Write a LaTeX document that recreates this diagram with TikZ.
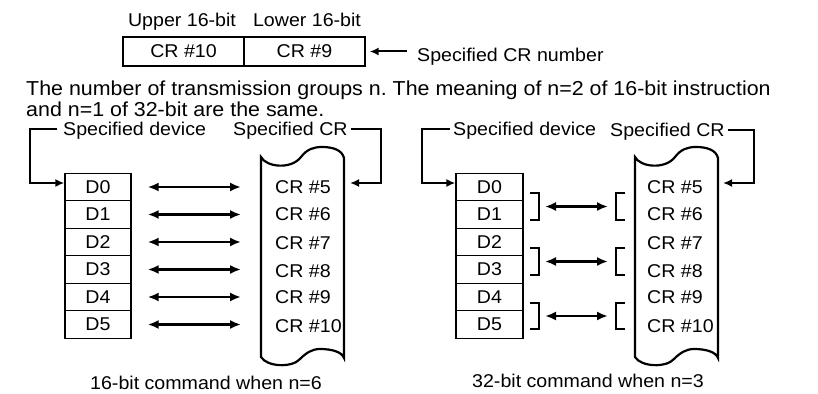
\documentclass[tikz,border=0pt]{standalone}
\usepackage{fontspec}
\setmainfont{Liberation Sans}[FakeStretch=1.06]
\usetikzlibrary{arrows.meta}
\frenchspacing

\begin{document}
\begin{tikzpicture}[x=1pt,y=-1pt,
	lbl/.style={inner sep=0,text height=13.2pt,text depth=0pt,font=\fontsize{18.5}{21}\selectfont},
	dev/.style={draw,line width=1.3pt,minimum width=66pt,minimum height=27.5pt,inner sep=0,font=\fontsize{18.5}{21}\selectfont},
	link/.style={line width=2.3pt,{Latex[length=11pt,width=9pt]}-{Latex[length=11pt,width=9pt]}},
	feed/.style={line width=2pt,-{Latex[length=9pt,width=8pt]}},
	scroll/.style={line width=2.2pt},
	pair/.style={line width=2.7pt}]
	\useasboundingbox (0,0) rectangle (818,393);
	% register pair on top
	\node[lbl] (up) at (182,20) {Upper 16-bit};
	\node[lbl] (lw) at (307,20) {Lower 16-bit};
	\node[dev,minimum width=121pt,minimum height=29pt] (hi) at (183.5,51.5) {CR \#10};
	\node[dev,minimum width=121pt,minimum height=29pt] (lo) at (304.5,51.5) {CR \#9};
	\node[lbl,anchor=west] (crnum) at (417,55) {Specified CR number};
	\draw[feed,shorten <=10pt,shorten >=4pt] (lo.east -| crnum.west) -- (lo.east);
	\node[lbl,anchor=west,text height=14.5pt,font=\fontsize{20.2}{23}\selectfont] (par1) at (26,88) {The number of transmission groups n. The meaning of n=2 of 16-bit instruction};
	\node[lbl,anchor=west,text height=14.5pt,font=\fontsize{20.2}{23}\selectfont] (par2) at (26,109) {and n=1 of 32-bit are the same.};
	% 16-bit, n=6
	\node[lbl,anchor=west] (sdl) at (63,129) {Specified device};
	\node[lbl,anchor=west] (scl) at (233,129) {Specified CR};
	\node[dev] (d0) at (98,187) {D0};
	\node[dev] (d1) at (98,214.5) {D1};
	\node[dev] (d2) at (98,242) {D2};
	\node[dev] (d3) at (98,269.5) {D3};
	\node[dev] (d4) at (98,297) {D4};
	\node[dev] (d5) at (98,324.5) {D5};
	\draw[scroll] (261,157) .. controls (266,167) and (291,170) .. (301,157) .. controls (307,149) and (314,147) .. (322,147) .. controls (333,147) and (342,150) .. (344,158) -- (344,358) .. controls (342,352) and (332,349) .. (320,349) .. controls (312,349) and (306,353) .. (300,359) .. controls (292,368) and (267,367) .. (261,357) -- cycle;
	\node[lbl,anchor=west] (ca5) at (275,187) {CR \#5};
	\node[lbl,anchor=west] (ca6) at (275,214) {CR \#6};
	\node[lbl,anchor=west] (ca7) at (275,243) {CR \#7};
	\node[lbl,anchor=west] (ca8) at (275,271) {CR \#8};
	\node[lbl,anchor=west] (ca9) at (275,297) {CR \#9};
	\node[lbl,anchor=west] (ca10) at (275,326) {CR \#10};
	\draw[link,shorten <=16pt,shorten >=34pt] (d0.east) -- (d0.east -| ca5.west);
	\draw[link,shorten <=16pt,shorten >=34pt] (d1.east) -- (d1.east -| ca6.west);
	\draw[link,shorten <=16pt,shorten >=34pt] (d2.east) -- (d2.east -| ca7.west);
	\draw[link,shorten <=16pt,shorten >=34pt] (d3.east) -- (d3.east -| ca8.west);
	\draw[link,shorten <=16pt,shorten >=34pt] (d4.east) -- (d4.east -| ca9.west);
	\draw[link,shorten <=16pt,shorten >=34pt] (d5.east) -- (d5.east -| ca10.west);
	\coordinate (ea) at (350,183);
	\draw[feed] ([xshift=-6pt]sdl.west) -- ++(-27,0) |- ([yshift=4pt]d0.west);
	\draw[feed] ([xshift=3pt]scl.east) -| ([xshift=31pt]ea) -- (ea);
	\node[lbl] (capa) at (206,383) {16-bit command when n=6};
	% 32-bit, n=3
	\node[lbl,anchor=west] (sdr) at (453,129) {Specified device};
	\node[lbl,anchor=west] (scr) at (610,130) {Specified CR};
	\node[dev,minimum width=67pt] (e0) at (489.5,187) {D0};
	\node[dev,minimum width=67pt] (e1) at (489.5,214.5) {D1};
	\node[dev,minimum width=67pt] (e2) at (489.5,242) {D2};
	\node[dev,minimum width=67pt] (e3) at (489.5,269.5) {D3};
	\node[dev,minimum width=67pt] (e4) at (489.5,297) {D4};
	\node[dev,minimum width=67pt] (e5) at (489.5,324.5) {D5};
	\draw[scroll] (635,157) .. controls (640,167) and (665,170) .. (675,157) .. controls (681,149) and (688,147) .. (696,147) .. controls (707,147) and (716,150) .. (718,158) -- (718,358) .. controls (716,352) and (706,349) .. (694,349) .. controls (686,349) and (680,353) .. (674,359) .. controls (666,368) and (641,367) .. (635,357) -- cycle;
	\node[lbl,anchor=west] (cb5) at (647,187) {CR \#5};
	\node[lbl,anchor=west] (cb6) at (647,214) {CR \#6};
	\node[lbl,anchor=west] (cb7) at (647,243) {CR \#7};
	\node[lbl,anchor=west] (cb8) at (647,271) {CR \#8};
	\node[lbl,anchor=west] (cb9) at (647,297) {CR \#9};
	\node[lbl,anchor=west] (cb10) at (647,326) {CR \#10};
	\draw[pair] (530,193) -| (539,220) -- (530,220);
	\draw[pair] (625,193) -| (616,220) -- (625,220);
	\draw[pair] (530,248) -| (539,275) -- (530,275);
	\draw[pair] (625,248) -| (616,275) -- (625,275);
	\draw[pair] (530,303) -| (539,329) -- (530,329);
	\draw[pair] (625,303) -| (616,329) -- (625,329);
	\coordinate (l1) at (539,206.5);
	\coordinate (r1) at (616,206.5);
	\coordinate (l2) at (539,261.5);
	\coordinate (r2) at (616,261.5);
	\coordinate (l3) at (539,316);
	\coordinate (r3) at (616,316);
	\draw[link,shorten <=6pt,shorten >=8pt] (l1) -- (r1);
	\draw[link,shorten <=6pt,shorten >=8pt] (l2) -- (r2);
	\draw[link,shorten <=6pt,shorten >=8pt] (l3) -- (r3);
	\coordinate (eb) at (723,183);
	\draw[feed] ([xshift=-3pt]sdr.west) -- ++(-28,0) |- ([yshift=4pt]e0.west);
	\draw[feed] ([xshift=3pt]scr.east) -| ([xshift=31pt]eb) -- (eb);
	\node[lbl] (capb) at (588,381) {32-bit command when n=3};
\end{tikzpicture}
\end{document}
